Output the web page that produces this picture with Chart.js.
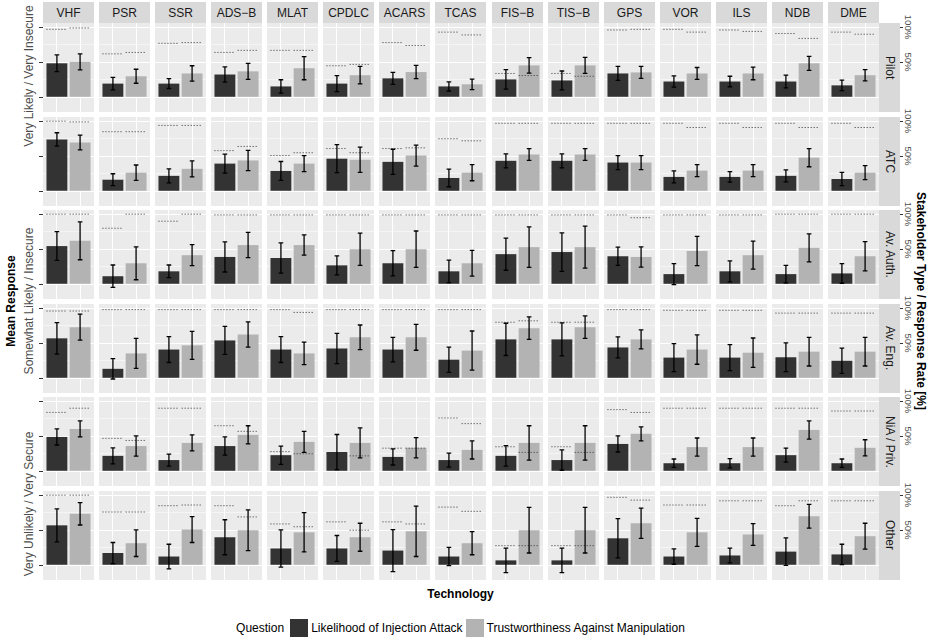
<!DOCTYPE html>
<html>
<head>
<meta charset="utf-8">
<title>Mean response by technology and stakeholder</title>
<script src="https://cdn.jsdelivr.net/npm/chart.js@4.4.1/dist/chart.umd.min.js"></script>
<style>
  body { margin: 0; background: #fff; font-family: "Liberation Sans", Arial, sans-serif; }
  #fig { position: relative; width: 928px; height: 640px; overflow: hidden; }
  #fig canvas { position: absolute; }
  .strip { position: absolute; background: #d9d9d9; color: #1a1a1a; font-size: 12px;
           display: flex; align-items: center; justify-content: center; white-space: nowrap; }
  .vert { writing-mode: vertical-rl; }
  .lbl { position: absolute; white-space: nowrap; line-height: 14px; }
  .rotl { transform: translate(-50%, -50%) rotate(-90deg); }
  .tickmark { position: absolute; width: 3px; height: 1px; background: #333; }
  #legend { position: absolute; left: 0; width: 921px; top: 619px; height: 18px;
            display: flex; align-items: center; justify-content: center; font-size: 12px; color: #000; }
  #legend i { display: inline-block; width: 18px; height: 18px; margin: 0 3px; }
</style>
</head>
<body>
<div id="fig"></div>
<script>
// facets
const technologies = ["VHF", "PSR", "SSR", "ADS\u2212B", "MLAT", "CPDLC", "ACARS", "TCAS",
                      "FIS\u2212B", "TIS\u2212B", "GPS", "VOR", "ILS", "NDB", "DME"];
const stakeholders = ["Pilot", "ATC", "Av. Auth.", "Av. Eng.", "NiA / Priv.", "Other"];
const questions = ["Likelihood of Injection Attack", "Trustworthiness Against Manipulation"];
const responseLabels = ["Very Likely / Very Insecure", "Somewhat Likely / Insecure", "Very Unlikely / Very Secure"];
const rateTicks = [100, 50];

// mean response, one row per stakeholder, one column per technology
const injMean = [
  [0.97, 0.39, 0.39, 0.65, 0.31, 0.39, 0.54, 0.31, 0.51, 0.48, 0.68, 0.45, 0.45, 0.45, 0.34],
  [1.48, 0.33, 0.44, 0.79, 0.58, 0.93, 0.84, 0.38, 0.87, 0.87, 0.82, 0.41, 0.41, 0.44, 0.35],
  [1.09, 0.23, 0.37, 0.78, 0.75, 0.54, 0.60, 0.37, 0.86, 0.92, 0.80, 0.29, 0.37, 0.29, 0.31],
  [1.14, 0.27, 0.82, 1.08, 0.82, 0.85, 0.82, 0.53, 1.11, 1.11, 0.88, 0.59, 0.59, 0.60, 0.50],
  [0.98, 0.44, 0.32, 0.72, 0.46, 0.55, 0.41, 0.32, 0.44, 0.32, 0.78, 0.23, 0.23, 0.46, 0.23],
  [1.14, 0.35, 0.25, 0.80, 0.48, 0.48, 0.42, 0.25, 0.14, 0.14, 0.77, 0.25, 0.28, 0.39, 0.31]
];
const injErr = [
  [0.24, 0.18, 0.14, 0.22, 0.19, 0.23, 0.17, 0.13, 0.28, 0.27, 0.20, 0.16, 0.15, 0.18, 0.15],
  [0.19, 0.17, 0.20, 0.27, 0.27, 0.40, 0.36, 0.25, 0.20, 0.20, 0.20, 0.17, 0.15, 0.17, 0.19],
  [0.41, 0.32, 0.18, 0.43, 0.43, 0.27, 0.36, 0.32, 0.46, 0.55, 0.26, 0.30, 0.30, 0.25, 0.28],
  [0.45, 0.29, 0.37, 0.40, 0.37, 0.43, 0.35, 0.36, 0.46, 0.47, 0.30, 0.40, 0.37, 0.41, 0.36],
  [0.23, 0.23, 0.17, 0.26, 0.26, 0.50, 0.23, 0.20, 0.29, 0.29, 0.23, 0.12, 0.13, 0.20, 0.12],
  [0.47, 0.30, 0.35, 0.50, 0.53, 0.37, 0.60, 0.26, 0.35, 0.35, 0.56, 0.22, 0.21, 0.39, 0.29]
];
const trustMean = [
  [1.01, 0.60, 0.68, 0.74, 0.83, 0.63, 0.72, 0.37, 0.91, 0.91, 0.71, 0.68, 0.68, 0.97, 0.63],
  [1.39, 0.53, 0.64, 0.88, 0.79, 0.90, 1.02, 0.53, 1.05, 1.05, 0.82, 0.59, 0.59, 0.96, 0.53],
  [1.24, 0.60, 0.83, 1.12, 1.12, 1.00, 1.00, 0.60, 1.06, 1.06, 0.78, 0.95, 0.83, 1.04, 0.80],
  [1.46, 0.71, 0.94, 1.25, 0.71, 1.17, 1.17, 0.79, 1.43, 1.46, 1.11, 0.82, 0.73, 0.76, 0.76],
  [1.21, 0.72, 0.81, 1.04, 0.84, 0.81, 0.67, 0.61, 0.81, 0.81, 1.07, 0.69, 0.69, 1.18, 0.67],
  [1.47, 0.63, 1.02, 1.00, 0.94, 0.80, 0.97, 0.63, 1.00, 1.00, 1.20, 0.94, 0.88, 1.40, 0.83]
];
const trustErr = [
  [0.23, 0.20, 0.22, 0.23, 0.33, 0.25, 0.19, 0.15, 0.22, 0.23, 0.17, 0.17, 0.18, 0.20, 0.16],
  [0.21, 0.22, 0.23, 0.29, 0.23, 0.36, 0.30, 0.23, 0.17, 0.17, 0.20, 0.17, 0.17, 0.26, 0.20],
  [0.54, 0.47, 0.30, 0.36, 0.29, 0.46, 0.52, 0.37, 0.58, 0.60, 0.29, 0.42, 0.40, 0.40, 0.42],
  [0.37, 0.43, 0.40, 0.36, 0.32, 0.35, 0.37, 0.56, 0.32, 0.32, 0.27, 0.42, 0.42, 0.41, 0.41],
  [0.23, 0.29, 0.23, 0.26, 0.30, 0.43, 0.29, 0.26, 0.49, 0.49, 0.20, 0.26, 0.26, 0.26, 0.23],
  [0.32, 0.38, 0.37, 0.58, 0.56, 0.40, 0.72, 0.33, 0.65, 0.65, 0.43, 0.40, 0.31, 0.34, 0.37]
];
// response rate [%]
const injRate = [
  [97, 62, 77, 64, 67, 45, 78, 93, 34, 34, 96, 97, 96, 91, 93],
  [100, 85, 94, 58, 51, 61, 61, 75, 97, 97, 97, 97, 97, 97, 97],
  [100, 80, 90, 99, 99, 99, 99, 99, 99, 99, 99, 99, 99, 100, 100],
  [96, 98, 98, 98, 98, 98, 98, 98, 80, 80, 98, 97, 97, 93, 93],
  [84, 47, 90, 65, 28, 25, 33, 76, 35, 35, 88, 90, 90, 90, 86],
  [100, 76, 85, 85, 59, 62, 62, 83, 28, 28, 97, 86, 92, 85, 92]
];
const trustRate = [
  [99, 64, 78, 67, 67, 47, 74, 89, 31, 30, 97, 93, 94, 84, 90],
  [99, 85, 94, 64, 55, 55, 62, 72, 97, 97, 97, 91, 91, 91, 91],
  [100, 100, 100, 99, 99, 99, 99, 99, 99, 99, 95, 99, 99, 100, 100],
  [96, 98, 98, 98, 94, 98, 98, 98, 82, 80, 98, 97, 97, 93, 93],
  [90, 44, 90, 57, 25, 22, 33, 68, 27, 27, 84, 90, 90, 90, 86],
  [100, 76, 86, 69, 55, 50, 59, 77, 28, 28, 93, 86, 92, 92, 92]
];

// layout
const PANEL_X0 = 43, COL_PITCH = 56.07, PANEL_W = 51;
const PANEL_Y0 = 23, ROW_PITCH = 93.6, PANEL_H = 89;
const TICK_LEN = 4;
const Y_MIN = -0.42, Y_MAX = 2.12;   // mean response axis
const PCT_PER_UNIT = 50;             // 100 % sits at response 2
const BAR_COLORS = ["#333333", "#b3b3b3"];
const PANEL_BG = "#ebebeb";

Chart.defaults.font.family = '"Liberation Sans", Arial, sans-serif';

const panelBg = {
  id: "panelBg",
  beforeDraw(chart) {
    const { ctx, chartArea: a } = chart;
    ctx.save();
    ctx.fillStyle = PANEL_BG;
    ctx.fillRect(a.left, a.top, a.right - a.left, a.bottom - a.top);
    ctx.restore();
  }
};

const errorBars = {
  id: "errorBars",
  afterDatasetsDraw(chart) {
    const ds = chart.data.datasets[0];
    const meta = chart.getDatasetMeta(0);
    const x = chart.scales.x, y = chart.scales.y;
    const cap = x.getPixelForValue(0.1) - x.getPixelForValue(0);
    const ctx = chart.ctx;
    ctx.save();
    ctx.strokeStyle = "#000";
    ctx.lineWidth = 1.3;
    meta.data.forEach((bar, i) => {
      const v = ds.data[i].y, e = ds.errors[i];
      const hi = y.getPixelForValue(v + e), lo = y.getPixelForValue(v - e);
      ctx.beginPath();
      ctx.moveTo(bar.x, hi); ctx.lineTo(bar.x, lo);
      ctx.moveTo(bar.x - cap, hi); ctx.lineTo(bar.x + cap, hi);
      ctx.moveTo(bar.x - cap, lo); ctx.lineTo(bar.x + cap, lo);
      ctx.stroke();
    });
    ctx.restore();
  }
};

function rateSegment(pos, rate) {
  return {
    type: "line",
    xAxisID: "x",
    yAxisID: "y2",
    order: 1,
    data: [{ x: pos - 0.45, y: rate }, { x: pos + 0.45, y: rate }],
    borderColor: "#333",
    borderWidth: 1,
    borderDash: [1, 2],
    pointRadius: 0,
    fill: false
  };
}

const isMajor = (ctx) => ctx.tick && Math.abs(ctx.tick.value % 1) < 1e-6;

function makePanel(canvas, r, c, withTicks) {
  return new Chart(canvas, {
    type: "bar",
    data: {
      datasets: [
        {
          xAxisID: "x",
          yAxisID: "y",
          order: 2,
          data: [{ x: 0, y: injMean[r][c] }, { x: 1, y: trustMean[r][c] }],
          errors: [injErr[r][c], trustErr[r][c]],
          backgroundColor: BAR_COLORS,
          borderWidth: 0,
          barPercentage: 0.9,
          categoryPercentage: 1
        },
        rateSegment(0, injRate[r][c]),
        rateSegment(1, trustRate[r][c])
      ]
    },
    options: {
      responsive: false,
      animation: false,
      events: [],
      layout: { padding: 0, autoPadding: false },
      plugins: { legend: { display: false }, tooltip: { enabled: false } },
      scales: {
        x: {
          type: "linear",
          min: -0.6,
          max: 1.6,
          offset: false,
          afterBuildTicks: (s) => { s.ticks = [{ value: 0 }, { value: 1 }]; },
          ticks: { display: false },
          grid: { color: "#fff", lineWidth: 1, drawTicks: false, offset: false },
          border: { display: false }
        },
        y: {
          type: "linear",
          min: Y_MIN,
          max: Y_MAX,
          afterBuildTicks: (s) => { s.ticks = [0, 0.5, 1, 1.5, 2].map((v) => ({ value: v })); },
          ticks: { display: false },
          grid: {
            color: "#fff",
            lineWidth: (ctx) => (isMajor(ctx) ? 1 : 0.5),
            drawTicks: withTicks,
            tickLength: TICK_LEN,
            tickWidth: 1,
            tickColor: (ctx) => (isMajor(ctx) ? "#333" : "rgba(0,0,0,0)")
          },
          border: { display: false }
        },
        y2: {
          type: "linear",
          display: false,
          min: Y_MIN * PCT_PER_UNIT,
          max: Y_MAX * PCT_PER_UNIT
        }
      }
    },
    plugins: [panelBg, errorBars]
  });
}

const fig = document.getElementById("fig");
function addDiv(cls, text, css) {
  const d = document.createElement("div");
  d.className = cls;
  d.textContent = text;
  Object.assign(d.style, css);
  fig.appendChild(d);
  return d;
}

// panels
const lastCol = [];
stakeholders.forEach((s, r) => {
  const top = Math.round(PANEL_Y0 + r * ROW_PITCH);
  technologies.forEach((t, c) => {
    const first = c === 0;
    const left = Math.round(PANEL_X0 + c * COL_PITCH) - (first ? TICK_LEN : 0);
    const w = PANEL_W + (first ? TICK_LEN : 0);
    const cv = document.createElement("canvas");
    cv.width = w;
    cv.height = PANEL_H;
    cv.style.left = left + "px";
    cv.style.top = top + "px";
    fig.appendChild(cv);
    const chart = makePanel(cv, r, c, first);
    if (c === technologies.length - 1) lastCol.push({ chart, top });
  });
});

// column strips
technologies.forEach((t, c) => {
  addDiv("strip", t, {
    left: Math.round(PANEL_X0 + c * COL_PITCH) + "px", top: "2px",
    width: PANEL_W + "px", height: "21px"
  });
});

// row strips + secondary (response rate) axis
const stripX = Math.round(PANEL_X0 + 14 * COL_PITCH) + PANEL_W;
stakeholders.forEach((s, r) => {
  const { chart, top } = lastCol[r];
  addDiv("strip vert", s, {
    left: stripX + "px", top: top + "px", width: "21px", height: PANEL_H + "px"
  });
  rateTicks.forEach((p) => {
    const py = top + chart.scales.y2.getPixelForValue(p);
    addDiv("tickmark", "", { left: stripX + 21 + "px", top: Math.round(py) + "px" });
    addDiv("lbl vert", p + "%", {
      left: stripX + 24 + "px", top: py + "px", transform: "translateY(-50%)",
      fontSize: "9.6px", lineHeight: "11px", color: "#4d4d4d"
    });
  });
});

// axis titles and response labels
addDiv("lbl rotl", "Mean Response", { left: "11px", top: "301px", fontSize: "12px", fontWeight: "bold" });
[76, 301, 504].forEach((cy, i) => {
  addDiv("lbl rotl", responseLabels[i], { left: "29px", top: cy + "px", fontSize: "12px", color: "#4d4d4d" });
});
addDiv("lbl vert", "Stakeholder Type / Response Rate [%]", {
  left: "914px", top: "301px", transform: "translateY(-50%)", fontSize: "12px", fontWeight: "bold"
});
addDiv("lbl", "Technology", {
  left: "460.5px", top: "594px", transform: "translate(-50%, -50%)", fontSize: "12px", fontWeight: "bold"
});

// legend
const legend = document.createElement("div");
legend.id = "legend";
const qTitle = document.createElement("span");
qTitle.textContent = "Question";
qTitle.style.marginRight = "3px";
legend.appendChild(qTitle);
questions.forEach((q, i) => {
  const box = document.createElement("i");
  box.style.background = BAR_COLORS[i];
  legend.appendChild(box);
  const lab = document.createElement("span");
  lab.textContent = q;
  legend.appendChild(lab);
});
fig.appendChild(legend);
</script>
</body>
</html>
